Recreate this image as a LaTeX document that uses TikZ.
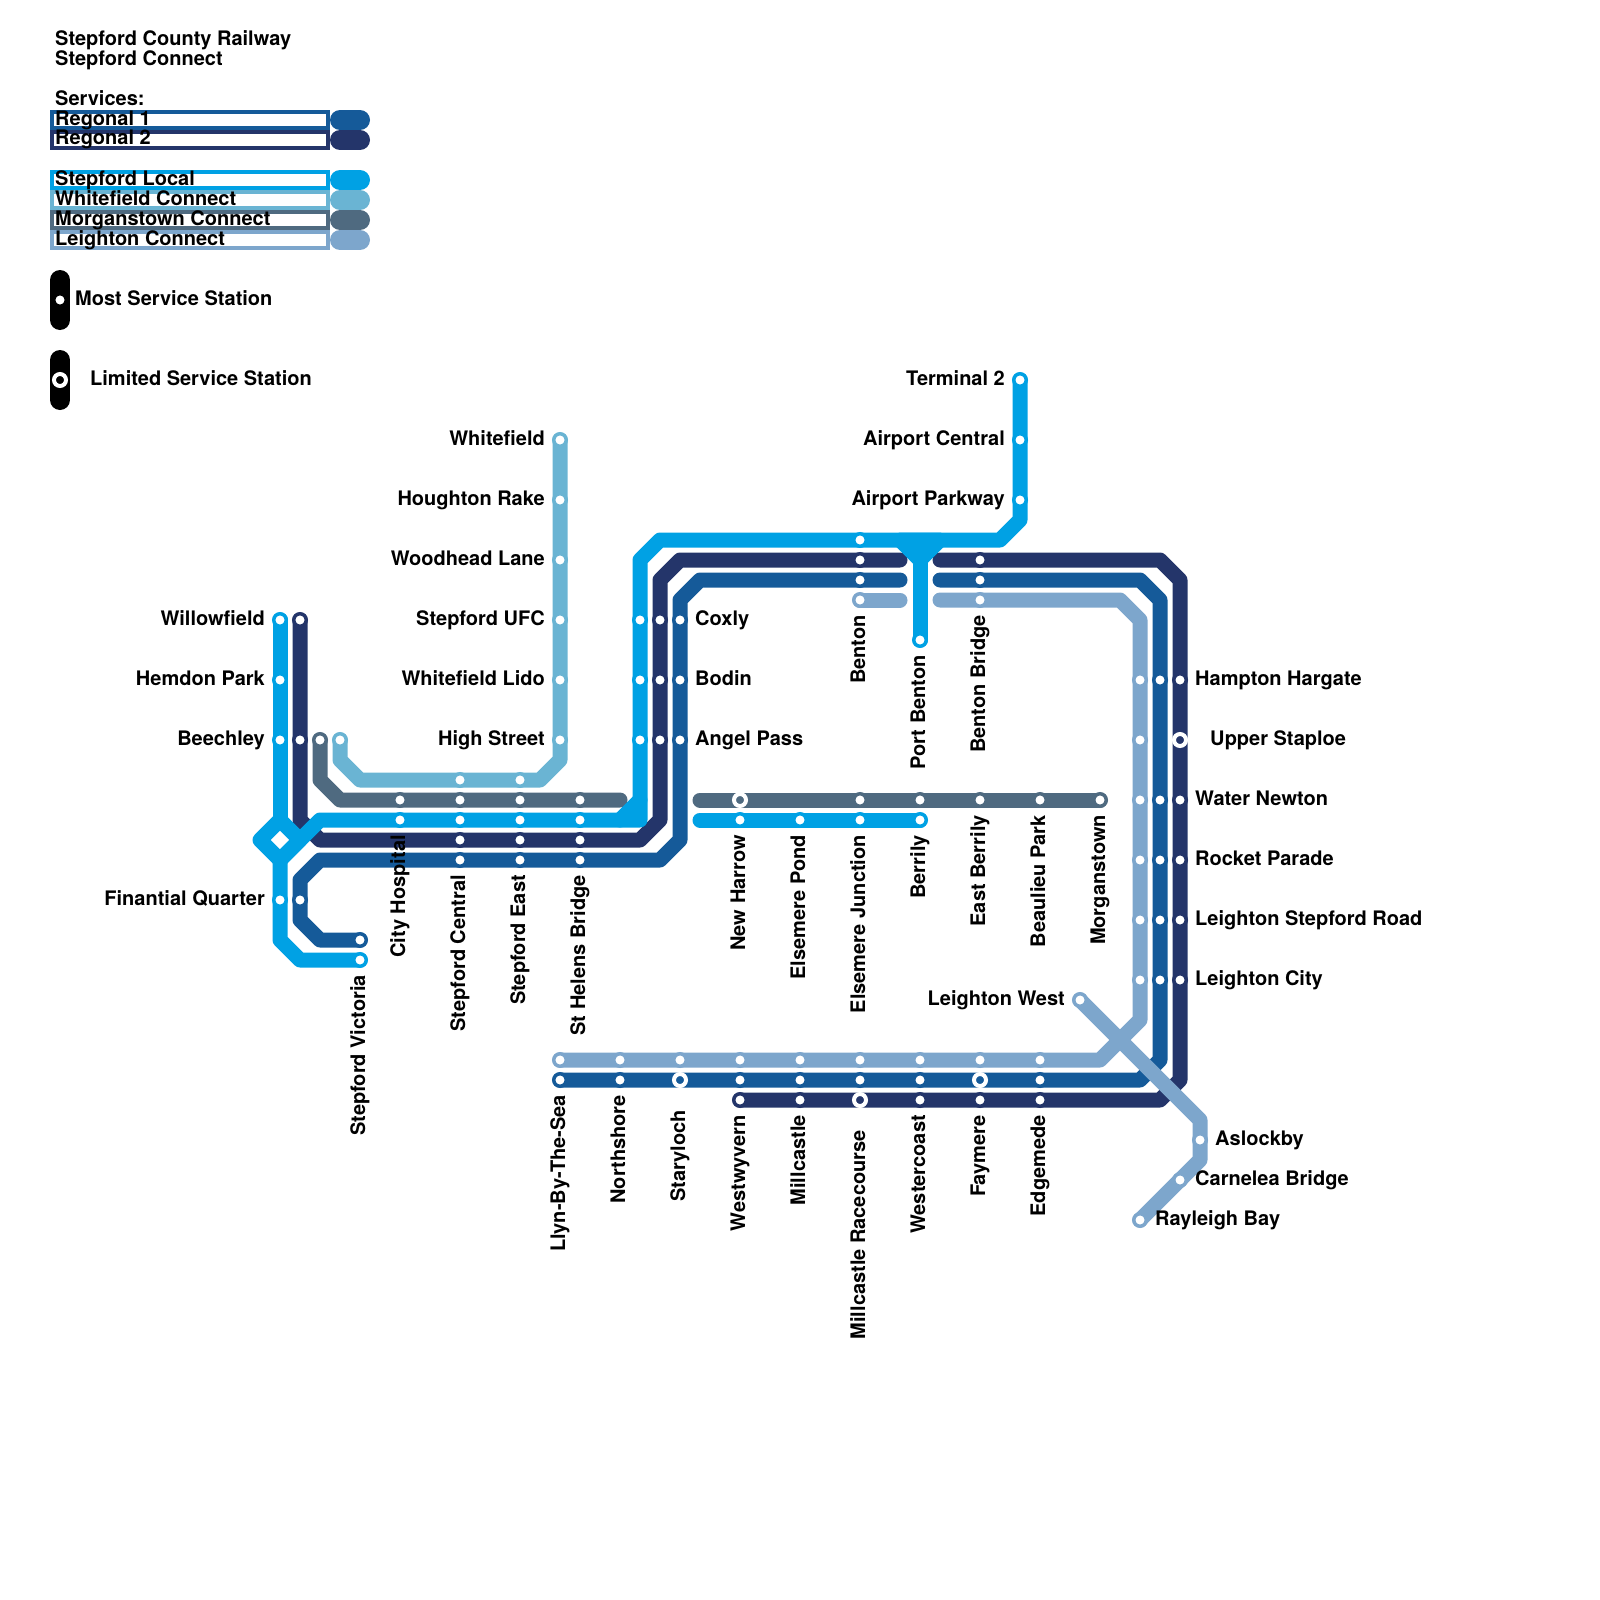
\documentclass[tikz,border=0pt]{standalone}
\usepackage{fontspec}
\setmainfont{TeX Gyre Heros}
\usetikzlibrary{backgrounds}
\definecolor{regone}{HTML}{155A99}
\definecolor{regtwo}{HTML}{24356A}
\definecolor{localblue}{HTML}{00A1E4}
\definecolor{whitecon}{HTML}{6AB4D3}
\definecolor{morgcon}{HTML}{4F6A80}
\definecolor{leighcon}{HTML}{7DA6CC}
\tikzset{
  route/.style    = {draw=#1, line width=15pt, line cap=round, line join=round},
  swatch/.style   = {draw=#1, line width=20pt, line cap=round},
  legbox/.style   = {draw=#1, fill=white, line width=4pt, inner sep=0pt, outer sep=0pt,
                     minimum width=276pt, minimum height=16pt},
  halt/.style     = {circle, draw=#1, fill=white, line width=3.5pt, inner sep=0pt,
                     minimum size=12.5pt},
  limited/.style  = {circle, draw=white, fill=#1, line width=4pt, inner sep=0pt,
                     minimum size=12pt},
  stname/.style   = {font=\fontsize{20}{20}\selectfont\bfseries, inner sep=0pt},
  stleft/.style   = {stname, anchor=base east},
  stright/.style  = {stname, anchor=base west},
  stup/.style     = {stname, anchor=base east, rotate=90},
}
\begin{document}
\begin{tikzpicture}[x=1pt,y=-1pt]
  \useasboundingbox (0,0) rectangle (1600,1600);
  \foreach \y/\n/\t in {46/a/Stepford County Railway, 66/b/Stepford Connect, 106/c/Services:}
    \node[stright] (head\n) at (55,\y) {\t};
  \foreach \y/\c/\t in {120/regone/Regonal 1, 140/regtwo/Regonal 2, 180/localblue/Stepford Local,
                        200/whitecon/Whitefield Connect, 220/morgcon/Morganstown Connect,
                        240/leighcon/Leighton Connect} {
    \node[legbox=\c] (box\y) at (190,\y) {};
    \coordinate (swa\y) at (340,\y);
    \coordinate (swb\y) at (360,\y);
    \draw[swatch=\c] (swa\y) -- (swb\y);
    \node[stright] (leg\y) at (55,\y+5) {\t};
  }
  \coordinate (mosta) at (60,280);
  \coordinate (mostb) at (60,320);
  \coordinate (lima) at (60,360);
  \coordinate (limb) at (60,400);
  \draw[swatch=black] (mosta) -- (mostb);
  \draw[swatch=black] (lima) -- (limb);
  \node[halt=black] (mostdot) at (60,300) {};
  \node[limited=black] (limdot) at (60,380) {};
  \node[stright] (mostname) at (75,305) {Most Service Station};
  \node[stright] (limname) at (90,385) {Limited Service Station};

  \foreach \x/\y in {280/620,280/680,280/740,280/900,360/960,400/820,460/820,520/820,580/820,
                     640/620,640/680,640/740,860/540,1020/380,1020/440,1020/500,920/640,
                     740/820,800/820,860/820,920/820}
    \node[halt=localblue] (lc\x-\y) at (\x,\y) {};
  \foreach \x/\y in {300/620,300/740,460/840,520/840,580/840,660/620,660/680,660/740,860/560,980/560,
                     1180/680,1180/800,1180/860,1180/920,1180/980,740/1100,800/1100,920/1100,
                     980/1100,1040/1100}
    \node[halt=regtwo] (rb\x-\y) at (\x,\y) {};
  \foreach \x/\y in {300/900,360/940,460/860,520/860,580/860,680/620,680/680,680/740,860/580,980/580,
                     1160/680,1160/800,1160/860,1160/920,1160/980,560/1080,620/1080,740/1080,
                     800/1080,860/1080,920/1080,1040/1080}
    \node[halt=regone] (ra\x-\y) at (\x,\y) {};
  \foreach \x/\y in {560/440,560/500,560/560,560/620,560/680,560/740,340/740,460/780,520/780}
    \node[halt=whitecon] (wf\x-\y) at (\x,\y) {};
  \foreach \x/\y in {320/740,400/800,460/800,520/800,580/800,860/800,920/800,980/800,1040/800,1100/800}
    \node[halt=morgcon] (mg\x-\y) at (\x,\y) {};
  \foreach \x/\y in {860/600,980/600,1140/680,1140/740,1140/800,1140/860,1140/920,1140/980,
                     560/1060,620/1060,680/1060,740/1060,800/1060,860/1060,920/1060,980/1060,1040/1060,
                     1080/1000,1200/1140,1180/1180,1140/1220}
    \node[halt=leighcon] (lt\x-\y) at (\x,\y) {};
  \node[limited=morgcon] (mg740-800) at (740,800) {};
  \node[limited=regtwo] (rb1180-740) at (1180,740) {};
  \node[limited=regtwo] (rb860-1100) at (860,1100) {};
  \node[limited=regone] (ra680-1080) at (680,1080) {};
  \node[limited=regone] (ra980-1080) at (980,1080) {};

  \coordinate (rawest) at (900,580);
  \coordinate (raeast) at (940,580);
  \coordinate (rbwest) at (900,560);
  \coordinate (rbeast) at (940,560);
  \coordinate (ltwest) at (900,600);
  \coordinate (lteast) at (940,600);
  \coordinate (mgwest) at (620,800);
  \coordinate (mgeast) at (700,800);
  \coordinate (lceast) at (700,820);
  \coordinate (forkb) at (920,560);
  \coordinate (rhomt) at (280,820);
  \coordinate (rhomb) at (280,860);

  \begin{scope}[on background layer]
    \draw[route=regone] (ra360-940.center) -- (320,940) -- (300,920) -- (300,880) -- (320,860)
      -- (660,860) -- (680,840) -- (680,600) -- (700,580) -- (rawest);
    \draw[route=regone] (raeast) -- (1140,580) -- (1160,600) -- (1160,1060) -- (1140,1080)
      -- (ra560-1080.center);
    \draw[route=regtwo] (rb300-620.center) -- (300,820) -- (320,840) -- (640,840) -- (660,820)
      -- (660,580) -- (680,560) -- (rbwest);
    \draw[route=regtwo] (rbeast) -- (1160,560) -- (1180,580) -- (1180,1080) -- (1160,1100)
      -- (rb740-1100.center);
    \draw[route=whitecon] (wf560-440.center) -- (560,760) -- (540,780) -- (360,780) -- (340,760)
      -- (wf340-740.center);
    \draw[route=morgcon] (mg320-740.center) -- (320,780) -- (340,800) -- (mgwest);
    \draw[route=morgcon] (mgeast) -- (mg1100-800.center);
    \draw[route=localblue] (lc280-620.center) -- (rhomt);
    \draw[route=localblue] (rhomb) -- (280,940) -- (300,960) -- (lc360-960.center);
    \draw[route=localblue] (rhomt) -- (260,840) -- (rhomb) -- (300,840) -- cycle;
    \draw[route=localblue] (rhomb) -- (320,820) -- (640,820) -- (640,560) -- (660,540)
      -- (1000,540) -- (1020,520) -- (lc1020-380.center);
    \draw[route=localblue] (620,820) -- (640,800);
    \draw[route=localblue, fill=localblue] (900,540) -- (forkb) -- (940,540) -- cycle;
    \draw[route=localblue] (forkb) -- (lc920-640.center);
    \draw[route=localblue] (lceast) -- (lc920-820.center);
    \draw[route=leighcon] (lt860-600.center) -- (ltwest);
    \draw[route=leighcon] (lteast) -- (1120,600) -- (1140,620) -- (1140,1020) -- (1100,1060)
      -- (lt560-1060.center);
    \draw[route=leighcon] (lt1080-1000.center) -- (1200,1120) -- (1200,1160) -- (lt1140-1220.center);
  \end{scope}

  \foreach \x/\y/\t in {545/445/Whitefield,545/505/Houghton Rake,545/565/Woodhead Lane,
                        545/625/Stepford UFC,545/685/Whitefield Lido,545/745/High Street,
                        1005/385/Terminal 2,1005/445/Airport Central,1005/505/Airport Parkway,
                        265/625/Willowfield,265/685/Hemdon Park,265/745/Beechley,
                        265/905/Finantial Quarter,1065/1005/Leighton West}
    \node[stleft] (n\x-\y) at (\x,\y) {\t};
  \foreach \x/\y/\t in {695/625/Coxly,695/685/Bodin,695/745/Angel Pass,1195/685/Hampton Hargate,
                        1210/745/Upper Staploe,1195/805/Water Newton,1195/865/Rocket Parade,
                        1195/925/Leighton Stepford Road,1195/985/Leighton City,1215/1145/Aslockby,
                        1195/1185/Carnelea Bridge,1155/1225/Rayleigh Bay}
    \node[stright] (n\x-\y) at (\x,\y) {\t};
  \foreach \x/\y/\t in {365/975/Stepford Victoria,405/835/City Hospital,465/875/Stepford Central,
                        525/875/Stepford East,585/875/St Helens Bridge,745/835/New Harrow,
                        805/835/Elsemere Pond,865/835/Elsemere Junction,925/835/Berrily,
                        985/815/East Berrily,1045/815/Beaulieu Park,1105/815/Morganstown,
                        865/615/Benton,925/655/Port Benton,985/615/Benton Bridge,
                        565/1095/Llyn-By-The-Sea,625/1095/Northshore,685/1110/Staryloch,
                        745/1115/Westwyvern,805/1115/Millcastle,865/1130/Millcastle Racecourse,
                        925/1115/Westercoast,985/1115/Faymere,1045/1115/Edgemede}
    \node[stup] (n\x-\y) at (\x,\y) {\t};
\end{tikzpicture}
\end{document}
